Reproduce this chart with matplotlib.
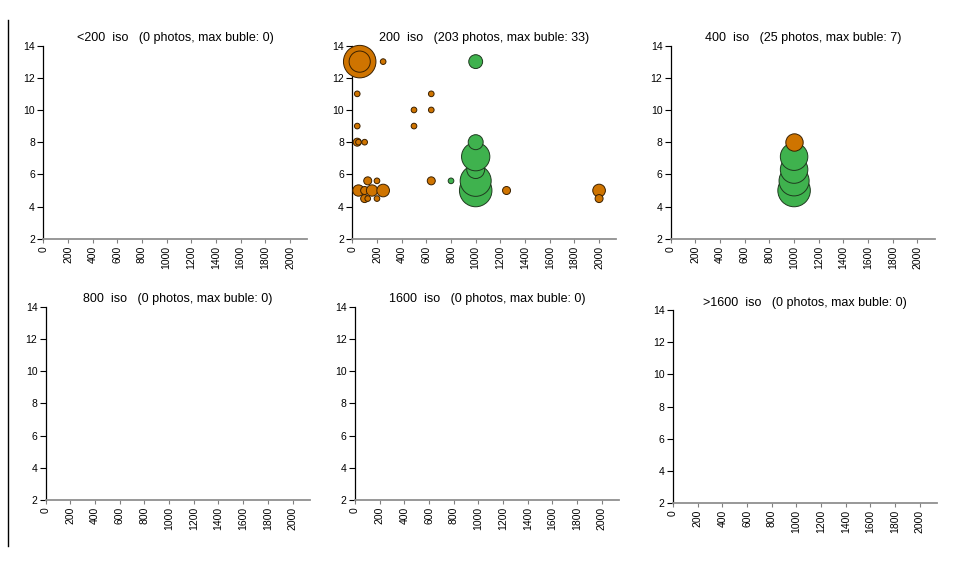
import matplotlib.pyplot as plt
from matplotlib.lines import Line2D

plt.rcParams["font.family"] = ["Liberation Sans", "DejaVu Sans"]

# panel titles (iso ranges)
iso_names = ["<200", "200", "400", "800", "1600", ">1600"]

# shutter speed (1/x s) vs aperture (f), bubble = photo count
# iso 200 panel
g200_x = [1000, 1000, 1000, 1000, 1000, 1000, 800]
g200_y = [5, 5.6, 6.3, 7.1, 8, 13, 5.6]
g200_n = [33, 30, 10, 25, 7, 6, 1]

o200_x = [60, 60, 250, 40, 40, 40, 50, 100, 500, 500, 640, 640, 640,
          50, 125, 200, 100, 160, 250, 100, 125, 200, 1250, 2000, 2000]
o200_y = [13, 13, 13, 11, 9, 8, 8, 8, 10, 9, 11, 10, 5.6,
          5, 5.6, 5.6, 5, 5, 5, 4.5, 4.5, 4.5, 5, 5, 4.5]
o200_n = [33, 14, 1, 1, 1, 2, 1, 1, 1, 1, 1, 1, 2,
          4, 2, 1, 2, 4, 5, 2, 1, 1, 2, 5, 2]

# iso 400 panel
g400_x = [1000, 1000, 1000, 1000]
g400_y = [5, 5.6, 6.3, 7.1]
g400_n = [7, 6, 5, 5]

o400_x = [1000]
o400_y = [8]
o400_n = [2]

green = [(g200_x, g200_y, g200_n) if n == "200" else
         (g400_x, g400_y, g400_n) if n == "400" else ([], [], [])
         for n in iso_names]
orange = [(o200_x, o200_y, o200_n) if n == "200" else
          (o400_x, o400_y, o400_n) if n == "400" else ([], [], [])
          for n in iso_names]

x_ticks = list(range(0, 2001, 200))
y_ticks = list(range(2, 15, 2))

fig = plt.figure(figsize=(9.55, 5.66), dpi=100, facecolor="white")

# axes rectangles in figure fraction
lefts = [0.0453, 0.3689, 0.7023, 0.0479, 0.3717, 0.7047]
bottoms = [0.578, 0.578, 0.578, 0.1166, 0.1166, 0.111]
w, h = 0.2765, 0.3416

max_d_pt = 32.5 * 0.72  # diameter of the biggest bubble, points

for i, name in enumerate(iso_names):
    ax = fig.add_axes([lefts[i], bottoms[i], w, h])
    gx, gy, gn = green[i]
    ox, oy, on = orange[i]
    total = sum(gn) + sum(on)
    vmax = max(gn + on) if total else 0

    if vmax:
        sg = [max_d_pt ** 2 * v / vmax for v in gn]
        so = [max_d_pt ** 2 * v / vmax for v in on]
        ax.scatter(gx, gy, s=sg, c="#3fb24e", edgecolors="#1f3a1f",
                   linewidths=0.7, clip_on=False, zorder=3)
        ax.scatter(ox, oy, s=so, c="#cf7400", edgecolors="#3a2000",
                   linewidths=0.7, clip_on=False, zorder=4)

    ax.set_xlim(0, 2140)
    ax.set_ylim(2, 14)
    ax.set_xticks(x_ticks)
    ax.set_yticks(y_ticks)
    ax.tick_params(axis="x", labelrotation=90, labelsize=7.5, length=3,
                   color="#808080", pad=2)
    ax.tick_params(axis="y", labelsize=7.5, length=4, pad=2)
    ax.spines["top"].set_visible(False)
    ax.spines["right"].set_visible(False)
    ax.spines["bottom"].set_color("#909090")
    ax.spines["bottom"].set_linewidth(1.3)
    ax.spines["left"].set_linewidth(0.9)
    ax.set_title(f"{name}  iso   ({total} photos, max buble: {vmax})",
                 fontsize=9, pad=3)

# thin border line on the left
fig.add_artist(Line2D([0.008, 0.008], [0.035, 0.965], color="black",
                      linewidth=1))

plt.savefig("out.png", dpi=100)
